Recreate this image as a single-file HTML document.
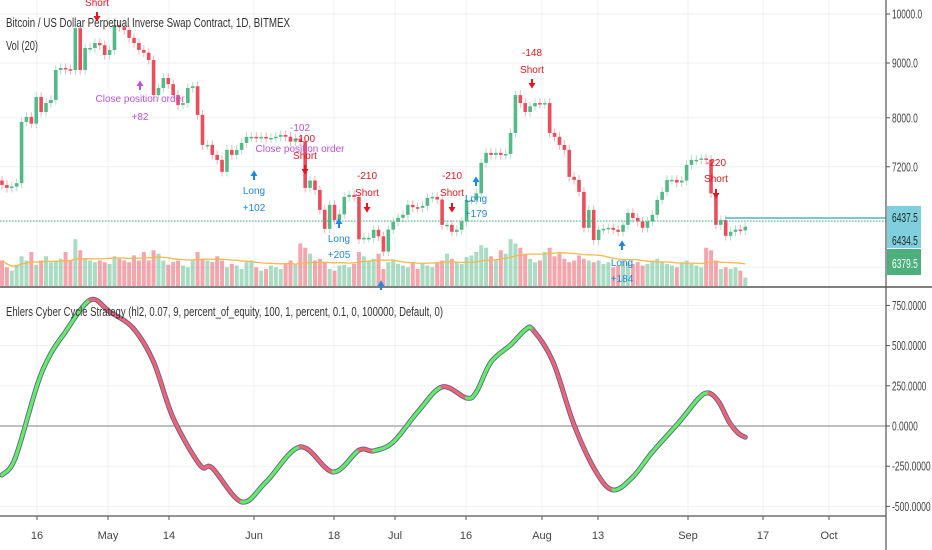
<!DOCTYPE html>
<html><head><meta charset="utf-8"><style>
html,body{margin:0;padding:0;background:#fff;}
svg{display:block;font-family:"Liberation Sans",sans-serif;}
</style></head><body>
<svg id="chart" width="932" height="550" viewBox="0 0 932 550" xmlns="http://www.w3.org/2000/svg">
<g id="grid"></g>
<g id="vol"></g>
<g id="candles"></g>
<g id="osc"></g>
<g id="axes"></g>
<g id="annot"></g>
<text x="6" y="27" font-size="13" fill="#333" textLength="284" lengthAdjust="spacingAndGlyphs">Bitcoin / US Dollar Perpetual Inverse Swap Contract, 1D, BITMEX</text>
<text x="6" y="50" font-size="13" fill="#333" textLength="32" lengthAdjust="spacingAndGlyphs">Vol (20)</text>
<text x="6" y="316" font-size="13" fill="#333" textLength="437" lengthAdjust="spacingAndGlyphs">Ehlers Cyber Cycle Strategy (hl2, 0.07, 9, percent_of_equity, 100, 1, percent, 0.1, 0, 100000, Default, 0)</text>
</svg>
<script>
const closes=[6924,6880,6900,6950,7929,8015,7900,8367,8100,8257,8313,8865,8903,8880,8865,9700,8865,9295,9295,9395,9350,9156,9255,9766,9720,9662,9500,9395,9255,9200,9058,8400,8529,8714,8600,8400,8223,8257,8529,8560,8049,7546,7546,7386,7307,7122,7466,7386,7466,7579,7678,7678,7661,7678,7650,7660,7680,7710,7680,7600,7650,7600,6880,6990,6850,6563,6300,6634,6420,6500,6748,6777,6748,6160,6179,6179,6287,6200,6000,6290,6396,6451,6493,6634,6600,6591,6620,6734,6748,6710,6355,6355,6260,6287,6400,6705,6705,6800,7260,7418,7386,7418,7386,7400,7743,8400,8257,8100,8200,8257,8240,8257,7743,7678,7546,7466,7045,6999,6821,6314,6560,6150,6287,6300,6314,6287,6260,6355,6520,6450,6400,6314,6400,6493,6705,6821,7000,7000,6960,6990,7229,7307,7307,7330,7307,6800,6355,6420,6206,6260,6290,6280,6330];
const volumes=[30,22,18,25,35,30,40,25,30,35,28,30,32,40,30,55,42,32,30,28,30,28,26,35,32,30,28,36,30,40,30,42,38,30,25,28,30,24,22,30,40,32,30,28,35,30,22,26,24,20,28,30,22,18,20,24,22,20,26,30,25,50,45,38,30,32,28,20,18,24,25,22,26,40,35,30,32,38,20,28,30,26,24,22,28,20,26,24,22,28,30,38,32,28,26,34,36,40,48,45,35,30,42,38,55,50,45,38,32,28,30,40,45,35,38,32,28,30,36,32,30,28,30,26,28,22,24,30,28,26,28,24,26,30,32,28,26,24,22,28,30,26,24,22,45,42,30,20,22,20,22,18,10];
const cycleIdx=[0,2.7,7.2,9.8,12.5,18,22,26.8,31,35,40.5,43,49,54,61,67.7,73,76,80,85,90,95,97,100,104,107,108.6,112.7,117,121.5,125,129,133,138.5,142.5,144.6,146.6,148.7,150.5,152];
const cycleVal=[-305,-200,255,440,565,783,710,609,398,50,-243,-261,-472,-348,-130,-286,-150,-155,-100,87,243,174,211,398,504,597,597,398,6,-286,-398,-317,-162,25,174,205,149,25,-43,-70];
const priceTicks=[10000,9000,8000,7200];
const oscTicks=[750,500,250,0,-250,-500];
const dateLabels=["16","May","14","Jun","18","Jul","16","Aug","13","Sep","17","Oct"];
const dateX=[37,108,169,254,334,395,466,542,598,688,763,829];

const NS="http://www.w3.org/2000/svg";
const PLOT_R=886;
function xOf(i){return 2+i*4.89;}
function yPrice(p){return 14+465*Math.log(10000/p);}
function yOsc(v){return 426-v*0.1608;}
function yVol(v){return 286-v*0.85;}
function mk(tag,attrs,parent){const e=document.createElementNS(NS,tag);for(const k in attrs)e.setAttribute(k,attrs[k]);parent.appendChild(e);return e;}

const grid=document.getElementById('grid');
dateX.forEach(x=>{
  const l=mk('line',{x1:x,x2:x,y1:0,y2:516,stroke:'#eef1f4','stroke-width':1},grid);
  
  
});
priceTicks.concat([6400,5800]).forEach(p=>{
  const y=yPrice(p);
  const l=mk('line',{x1:0,x2:PLOT_R,y1:y,y2:y,stroke:'#eef1f4','stroke-width':1},grid);
  
  
});
oscTicks.forEach(v=>{
  const y=yOsc(v);
  const l=mk('line',{x1:0,x2:PLOT_R,y1:y,y2:y,stroke:v===0?'#9a9a9a':'#eef1f4','stroke-width':v===0?1.3:1},grid);
  
  
});

const volG=document.getElementById('vol');
let opens=closes.map((c,i)=>i===0?6990:closes[i-1]);
volumes.forEach((v,i)=>{
  const up=closes[i]>=opens[i];
  const r=mk('rect',{x:xOf(i)-2,y:yVol(v),width:4,height:286-yVol(v),fill:up?'rgba(83,185,135,0.5)':'rgba(235,77,92,0.5)'},volG);
  
  
});
let maPts=[];
volumes.forEach((v,i)=>{const s=volumes.slice(Math.max(0,i-19),i+1);const m=s.reduce((a,b)=>a+b,0)/s.length;maPts.push(xOf(i).toFixed(1)+','+yVol(m).toFixed(1));});
const ma=mk('polyline',{points:maPts.join(' '),fill:'none',stroke:'#f7b94a','stroke-width':1.3},volG);



const cg=document.getElementById('candles');
closes.forEach((c,i)=>{
  const o=opens[i];const up=c>=o;const col=up?'#53b987':'#eb4d5c';
  const x=xOf(i);
  const hi=Math.max(o,c)*1.01, lo=Math.min(o,c)*0.99;
  const w=mk('line',{x1:x,x2:x,y1:yPrice(hi),y2:yPrice(lo),stroke:col,'stroke-width':1,opacity:0.45},cg);
  
  
  const yt=yPrice(Math.max(o,c)),yb=yPrice(Math.min(o,c));
  const b=mk('rect',{x:x-1.8,y:yt,width:3.6,height:Math.max(1.5,yb-yt),fill:col},cg);
  
  
});
const dl=mk('line',{x1:0,x2:PLOT_R,y1:221,y2:221,stroke:'#3fae7a','stroke-width':1,'stroke-dasharray':'1.5,1.5'},cg);


const tl=mk('line',{x1:725,x2:PLOT_R,y1:218,y2:218,stroke:'#7cc6d4','stroke-width':2},cg);



const og=document.getElementById('osc');
function pt(k){return [xOf(cycleIdx[k]),yOsc(cycleVal[k])];}
const n=cycleIdx.length;
function segPath(k){
  const p0=pt(Math.max(0,k-1)),p1=pt(k),p2=pt(k+1),p3=pt(Math.min(n-1,k+2));
  const c1=[p1[0]+(p2[0]-p0[0])/6,p1[1]+(p2[1]-p0[1])/6];
  const c2=[p2[0]-(p3[0]-p1[0])/6,p2[1]-(p3[1]-p1[1])/6];
  return `M${p1[0]},${p1[1]} C${c1[0]},${c1[1]} ${c2[0]},${c2[1]} ${p2[0]},${p2[1]}`;
}
for(let k=0;k<n-1;k++){
  const u=mk('path',{d:segPath(k),fill:'none',stroke:'#6a5aa8','stroke-width':5,'stroke-linecap':'round'},og);
  
  
}
for(let k=0;k<n-1;k++){
  const rising=cycleVal[k+1]>=cycleVal[k];
  const s=mk('path',{d:segPath(k),fill:'none',stroke:rising?'#5ef25a':'#f0656a','stroke-width':3.2,'stroke-linecap':'round'},og);
  
  
}

const ax=document.getElementById('axes');
const a1=mk('line',{x1:PLOT_R,x2:PLOT_R,y1:0,y2:550,stroke:'#555','stroke-width':1.2},ax);


const a2=mk('line',{x1:0,x2:932,y1:287,y2:287,stroke:'#555','stroke-width':1.5},ax);


const a3=mk('line',{x1:0,x2:PLOT_R,y1:516,y2:516,stroke:'#555','stroke-width':1.2},ax);


function label(txt,x,y,anchor,name,fill,fit){
  const t=mk('text',{x:x,y:y,'font-size':fit?12.5:11,fill:fill||'#444','text-anchor':anchor||'start'},ax);
  if(fit){t.setAttribute('textLength',(txt.length*4.3).toFixed(1));t.setAttribute('lengthAdjust','spacingAndGlyphs');}
  t.textContent=txt;
  
  
  return t;
}
priceTicks.forEach(p=>{const y=yPrice(p);mk('line',{x1:PLOT_R,x2:PLOT_R+4,y1:y,y2:y,stroke:'#555'},ax);label(p.toFixed(1),892,y+4.5,'start','price-tick-label','#444',true);});
oscTicks.forEach(v=>{const y=yOsc(v);mk('line',{x1:PLOT_R,x2:PLOT_R+4,y1:y,y2:y,stroke:'#555'},ax);label(v.toFixed(4),892,y+4.5,'start','osc-tick-label','#444',true);});
dateLabels.forEach((d,i)=>{mk('line',{x1:dateX[i],x2:dateX[i],y1:516,y2:520,stroke:'#555'},ax);label(d,dateX[i],539,'middle','date-tick-label');});
const bx1=mk('rect',{x:887,y:206,width:34,height:42,fill:'#80cfdc'},ax);


const bx2=mk('rect',{x:887,y:249,width:34,height:26,fill:'#4cb07c'},ax);


label('6437.5',892,222,'start','position-price-label','#1a2a30',true);
label('6434.5',892,245,'start','avg-price-label','#1a2a30',true);
label('6379.5',892,268,'start','last-price-label','#fff',true);

const an=document.getElementById('annot');
function txt(s,x,y,col){const t=mk('text',{x:x,y:y,'font-size':10,fill:col,'text-anchor':'middle'},an);t.textContent=s;}
function arrow(x,y,dir,col){const h=8*dir;const p=mk('path',{d:`M${x-1},${y} L${x+1},${y} L${x+1},${y+h*0.5} L${x+3.5},${y+h*0.5} L${x},${y+h*1.2} L${x-3.5},${y+h*0.5} L${x-1},${y+h*0.5}Z`,fill:col},an);}
const R='#e8141e',B='#1e88e5',P='#c050e0';
txt('Short',97,6,R);arrow(97,12,1,R);
arrow(140,90,-1,P);txt('Close position order',140,102,P);txt('+82',140,120,P);
arrow(254,180,-1,B);txt('Long',254,194,B);txt('+102',254,211,B);
txt('-102',300,131,P);txt('-100',305,142,R);txt('Close position order',300,152,P);txt('Short',305,159,R);
arrow(305,165,1,R);
txt('-210',367,179,R);txt('Short',367,196,R);arrow(367,203,1,R);
arrow(339,228,-1,B);txt('Long',339,242,B);txt('+205',339,258,B);
txt('-210',452,179,R);txt('Short',452,196,R);arrow(452,203,1,R);
arrow(476,186,-1,B);txt('Long',476,202,B);txt('+179',476,217,B);
txt('-148',532,56,R);txt('Short',532,73,R);arrow(532,79,1,R);
arrow(622,250,-1,B);txt('Long',622,266,B);txt('+184',622,282,B);
txt('-220',716,166,R);txt('Short',716,182,R);arrow(716,189,1,R);
arrow(381,290,-1,B);
</script>
</body></html>
